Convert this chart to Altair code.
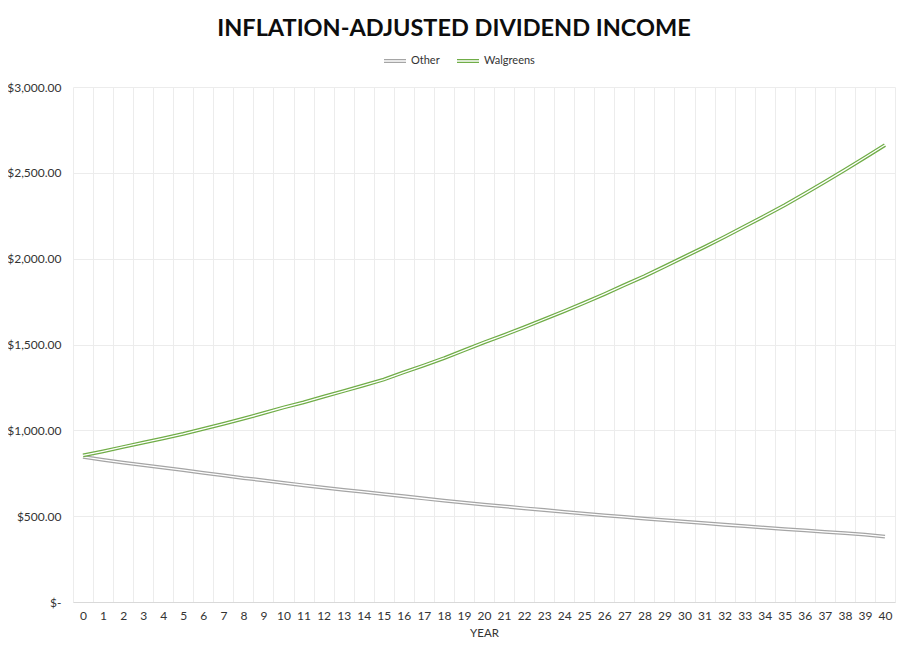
import altair as alt
import pandas as pd

years = list(range(0, 41))
other = [846, 828, 812, 797, 783, 768, 752, 738, 722, 709,
         694, 680, 666, 653, 641, 628, 616, 603, 591, 579,
         567, 557, 546, 536, 525, 515, 505, 496, 486, 477,
         468, 459, 450, 442, 433, 425, 417, 409, 401, 393, 381]
walgreens = [854, 878, 903, 928, 953, 979, 1008, 1038, 1068, 1100,
             1133, 1163, 1196, 1229, 1262, 1296, 1338, 1378, 1420, 1466,
             1512, 1555, 1600, 1647, 1694, 1743, 1793, 1846, 1898, 1954,
             2011, 2068, 2127, 2188, 2249, 2312, 2379, 2447, 2517, 2589, 2662]
series_names = ["Other", "Walgreens"]
series_colors = ["#a5a5a5", "#70ad47"]
y_ticks = [0, 500, 1000, 1500, 2000, 2500, 3000]

rows = []
for name, vals in zip(series_names, [other, walgreens]):
    for yr, v in zip(years, vals):
        rows.append({"year": yr, "series": name, "value": v})
df = pd.DataFrame(rows)

FONT = "Lato"

x_enc = alt.X(
    "year:O",
    sort=years,
    scale=alt.Scale(type="band", paddingInner=0, paddingOuter=0),
    axis=alt.Axis(
        title="YEAR", tickBand="extent", grid=True, gridColor="#ececec",
        ticks=False, domainColor="#d9d9d9", labelAngle=0, labelPadding=8,
        labelFontSize=12, labelColor="#333333", titleFontSize=11.5,
        titleFontWeight="normal", titleColor="#333333", titlePadding=6,
        labelFont=FONT, titleFont=FONT,
    ),
)
y_enc = alt.Y(
    "value:Q",
    scale=alt.Scale(domain=[0, 3000], nice=False),
    axis=alt.Axis(
        title=None, values=y_ticks, grid=True, gridColor="#ececec",
        ticks=False, domain=False, labelPadding=12, labelFontSize=12,
        labelColor="#333333", labelFont=FONT,
        labelExpr="datum.value == 0 ? '$-' : '$' + format(datum.value, ',.2f')",
    ),
)

color_enc = alt.Color(
    "series:N",
    scale=alt.Scale(domain=series_names, range=series_colors),
    legend=alt.Legend(
        title=None, orient="none", direction="horizontal",
        legendX=310, legendY=-38,
        symbolType="M-1,-0.13H1M-1,0.13H1", symbolSize=484,
        symbolStrokeWidth=1.2, labelFontSize=11, labelFont=FONT,
        labelColor="#333333", labelOffset=4, columnPadding=14,
    ),
)

layers = []
for name, col in zip(series_names, series_colors):
    base = alt.Chart(df).transform_filter(alt.datum.series == name)
    layers.append(
        base.mark_line(strokeWidth=3.8).encode(x=x_enc, y=y_enc, color=color_enc)
    )
    layers.append(
        base.mark_line(strokeWidth=1.3, color="white").encode(x=x_enc, y=y_enc)
    )

chart = alt.layer(*layers).properties(
    width=822, height=515,
    title=alt.Title(
        "INFLATION-ADJUSTED DIVIDEND INCOME", fontSize=23.5, font=FONT,
        fontWeight="bold", color="#0d0d0d", anchor="middle", dx=-30, offset=9,
    ),
    autosize=alt.AutoSizeParams(type="none"),
    padding={"left": 65, "top": 79, "right": 7, "bottom": 45},
).configure_view(stroke=None)

chart.save("out.html", embed_options={"renderer": "svg", "actions": False})
